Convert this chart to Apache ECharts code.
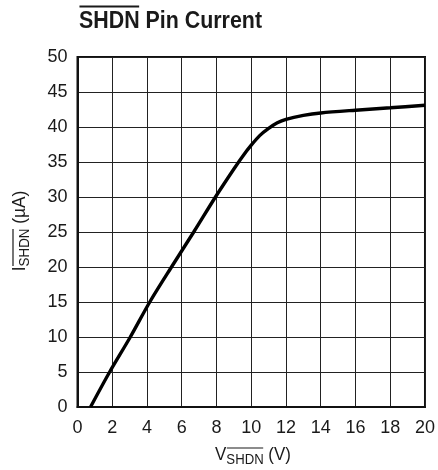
<!DOCTYPE html>
<html><head><meta charset="utf-8">
<script src="https://cdn.jsdelivr.net/npm/echarts@6/dist/echarts.min.js"></script>
<style>html,body{margin:0;padding:0;background:#fff}#c{width:438px;height:470px}</style>
</head><body><div id="c"></div>
<script>
const vShdn = [0.75, 1.85, 3.04, 4.16, 5.41, 6.69, 7.94, 9.0, 9.5, 10.0, 10.5, 11.0, 11.5, 12.0, 13.0, 14.0, 16.0, 18.0, 20.0];
const iShdn = [0, 5, 10, 15, 20, 25, 30, 34.0, 35.8, 37.4, 38.8, 39.8, 40.6, 41.1, 41.65, 42.0, 42.4, 42.75, 43.1];
const xTicks = ['0','2','4','6','8','10','12','14','16','18','20'];
const yTicks = ['0','5','10','15','20','25','30','35','40','45','50'];
const titleParts = [{t:'SHDN', over:true}, {t:' Pin Current'}];
const xNameParts = [{t:'V'}, {t:'SHDN', sub:true, over:true}, {t:' (V)'}];
const yNameParts = [{t:'I'}, {t:'SHDN', sub:true, over:true}, {t:' (µA)'}];

const FONT = '"Liberation Sans", Arial, sans-serif';
const cv = document.createElement('canvas').getContext('2d');
function measure(txt, size, weight) {
  cv.font = (weight || 'normal') + ' ' + size + 'px ' + FONT;
  return cv.measureText(txt).width;
}
function buildLabel(parts, mainSize, subSize, weight, subShift, overY, overSubY) {
  let x = 0; const kids = [];
  const items = parts.map(p => {
    const size = p.sub ? subSize : mainSize;
    const w = measure(p.t, size, weight);
    const it = {p, size, w, x};
    x += w; return it;
  });
  const total = x;
  items.forEach(it => {
    const y = it.p.sub ? subShift : 0;
    kids.push({type:'text', x: it.x - total/2, y: y, style:{text: it.p.t, font: (weight||'normal') + ' ' + it.size + 'px ' + FONT, fill:'#1a1a1a', align:'left', verticalAlign:'middle'}});
    if (it.p.over) {
      const oy = it.p.sub ? overSubY : overY;
      const w = measure(it.p.t.trim(), it.size, weight);
      kids.push({type:'line', shape:{x1: it.x - total/2 + 0.5, y1: oy, x2: it.x - total/2 + w - 0.5, y2: oy}, style:{stroke:'#1a1a1a', lineWidth: it.p.sub ? 1.2 : 2}});
    }
  });
  return {kids, total};
}
const title = buildLabel(titleParts, 23, 23, 'bold', 0, -15.5, -15.5);
const xName = buildLabel(xNameParts, 18, 14, 'normal', 4.8, -7, -7);
const yName = buildLabel(yNameParts, 18, 14, 'normal', 4.8, -7, -7);
const TS = 0.93, XS = 0.94, YS = 0.96;

const chart = echarts.init(document.getElementById('c'), null, {renderer:'canvas'});
chart.setOption({
  animation: false,
  backgroundColor: '#fff',
  grid: {left: 77.5, right: 10, top: 57, bottom: 63, show: true, borderColor: '#111', borderWidth: 2, containLabel: false},
  xAxis: {
    type: 'value', min: 0, max: 20, interval: 2,
    axisLine: {show: true, lineStyle: {color:'#111', width: 2}},
    axisTick: {show: false},
    splitLine: {show: true, lineStyle: {color:'#222', width: 1}},
    axisLabel: {color:'#1a1a1a', fontSize: 18, fontFamily: FONT, margin: 12, formatter: (v) => xTicks[Math.round(v/2)]}
  },
  yAxis: {
    type: 'value', min: 0, max: 50, interval: 5,
    axisLine: {show: true, lineStyle: {color:'#111', width: 2}},
    axisTick: {show: false},
    splitLine: {show: true, lineStyle: {color:'#222', width: 1}},
    axisLabel: {color:'#1a1a1a', fontSize: 18, fontFamily: FONT, margin: 10, formatter: (v) => yTicks[Math.round(v/5)]}
  },
  series: [{
    type: 'line', data: vShdn.map((v, i) => [v, iShdn[i]]),
    showSymbol: false, smooth: 0.3,
    lineStyle: {color:'#000', width: 3.4}
  }],
  graphic: [
    {type:'group', x: 79 + title.total*TS/2, y: 22, scaleX: TS, children: title.kids},
    {type:'group', x: 253, y: 455, scaleX: XS, children: xName.kids},
    {type:'group', x: 20, y: 231, rotation: Math.PI/2, scaleX: YS, children: yName.kids}
  ]
});
</script></body></html>
